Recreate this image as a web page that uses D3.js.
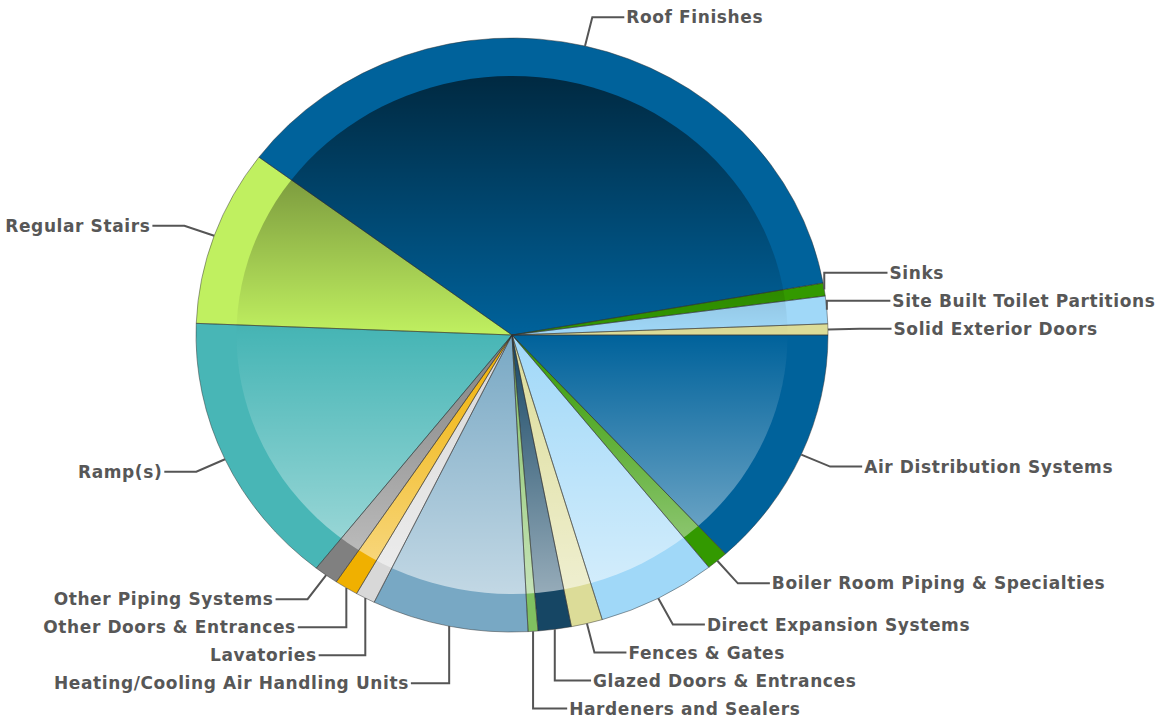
<!DOCTYPE html>
<html>
<head>
<meta charset="utf-8">
<script src="https://cdn.jsdelivr.net/npm/d3@7"></script>
<style>
  body { margin: 0; background: #fff; }
  svg { display: block; }
  .lbl { font-family: "DejaVu Sans", Verdana, sans-serif; font-weight: bold; font-size: 17px; letter-spacing: 0.6px; fill: #575757; }
</style>
</head>
<body>
<div id="chart"></div>
<script>
// slices, clockwise from 3 o'clock (percent of total)
const categories = [
  "Air Distribution Systems", "Boiler Room Piping & Specialties", "Direct Expansion Systems",
  "Fences & Gates", "Glazed Doors & Entrances", "Hardeners and Sealers",
  "Heating/Cooling Air Handling Units", "Lavatories", "Other Doors & Entrances",
  "Other Piping Systems", "Ramp(s)", "Regular Stairs", "Roof Finishes", "Sinks",
  "Site Built Toilet Partitions", "Solid Exterior Doors"
];
const values = [13.2, 1.1, 6.1, 1.6, 1.7, 0.5, 8.0, 1.0, 1.2, 1.25, 15.0, 9.6, 37.0, 0.7, 1.5, 0.6];
const palette = ["#00629b", "#339900", "#a0d8f8", "#dcdc98", "#164664", "#80c060",
  "#78a8c4", "#d8d8d8", "#f0b000", "#808080", "#48b6b6", "#c0f060"];

const width = 1165, height = 720,
  cx = 512, cy = 335,
  R = 297,          // vertical radius
  sx = 316 / 297,   // pie is drawn a bit wider than tall
  innerK = 0.872,
  labelK = 1.1,
  gap = 28

const svg = d3.select("#chart").append("svg")
  .attr("width", width).attr("height", height)

const defs = svg.append("defs")
const grad = defs.append("linearGradient")
  .attr("id", "shade").attr("gradientUnits", "userSpaceOnUse")
  .attr("x1", 0).attr("x2", 0).attr("y1", -R * innerK).attr("y2", R * innerK)
grad.append("stop").attr("offset", 0).attr("stop-color", "#000").attr("stop-opacity", 0.58)
grad.append("stop").attr("offset", 0.5).attr("stop-color", "#000").attr("stop-opacity", 0)
grad.append("stop").attr("offset", 0.5).attr("stop-color", "#fff").attr("stop-opacity", 0)
grad.append("stop").attr("offset", 1).attr("stop-color", "#fff").attr("stop-opacity", 0.55)

const pie = d3.pie().sort(null)
  .startAngle(Math.PI / 2).endAngle(Math.PI / 2 + 2 * Math.PI)
const arcs = pie(values)

const outer = d3.arc().innerRadius(0).outerRadius(R)
const inner = d3.arc().innerRadius(0).outerRadius(R * innerK)

const g = svg.append("g")
  .attr("transform", "translate(" + cx + "," + cy + ") scale(" + sx + ",1)")

// outer ring (base colour)
g.selectAll("path.ring").data(arcs).enter().append("path")
  .attr("class", "ring")
  .attr("d", outer)
  .attr("fill", (d, i) => palette[i % palette.length])

// inner part, same colour + vertical shading
g.selectAll("path.core").data(arcs).enter().append("path")
  .attr("class", "core")
  .attr("d", inner)
  .attr("fill", (d, i) => palette[i % palette.length])
g.append("circle").attr("r", R * innerK).attr("fill", "url(#shade)")

// slice outlines
g.selectAll("path.edge").data(arcs).enter().append("path")
  .attr("class", "edge")
  .attr("d", outer)
  .attr("fill", "none")
  .attr("stroke", "#333")
  .attr("stroke-opacity", 0.6)
  .attr("stroke-width", 0.8)
  .attr("vector-effect", "non-scaling-stroke")

// ---- labels ----
const pt = (a, k) => [cx + Math.sin(a) * R * k * sx, cy - Math.cos(a) * R * k]

let labels = arcs.map((d, i) => {
  const a = (d.startAngle + d.endAngle) / 2
  const anchor = pt(a, 1)
  const elbow = pt(a, labelK)
  return { name: categories[i], anchor, elbow, right: Math.sin(a) > 0, want: elbow[1], y: elbow[1] }
})

// spread labels apart: upper half pushed up, lower half pushed down
function spread(list) {
  const up = list.filter(l => l.want < cy).sort((a, b) => b.want - a.want)
  const down = list.filter(l => l.want >= cy).sort((a, b) => a.want - b.want)
  for (let k = 1; k < up.length; k++) up[k].y = Math.min(up[k].want, up[k - 1].y - gap)
  for (let k = 1; k < down.length; k++) down[k].y = Math.max(down[k].want, down[k - 1].y + gap)
}
spread(labels.filter(l => l.right))
spread(labels.filter(l => !l.right))

const lg = svg.append("g")
labels.forEach(l => {
  const pushed = Math.abs(l.y - l.want) > 1
  const ex = pushed ? l.anchor[0] : l.elbow[0]
  const dir = l.right ? 1 : -1
  const tx = l.elbow[0] + dir * 32
  lg.append("path")
    .attr("d", d3.line()([l.anchor, [ex, l.y], [tx, l.y]]))
    .attr("fill", "none")
    .attr("stroke", "#555")
    .attr("stroke-width", 2)
  lg.append("text")
    .attr("class", "lbl")
    .attr("x", tx + dir * 2)
    .attr("y", l.y)
    .attr("dy", "0.35em")
    .attr("text-anchor", l.right ? "start" : "end")
    .text(l.name)
})
</script>
</body>
</html>
